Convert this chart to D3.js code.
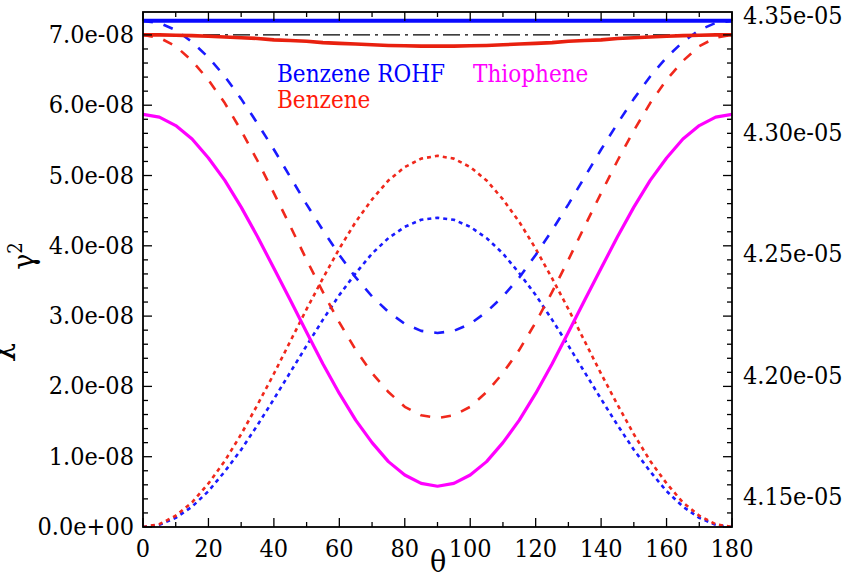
<!DOCTYPE html>
<html><head><meta charset="utf-8">
<script src="https://cdn.jsdelivr.net/npm/d3@7"></script>
<style>body{margin:0;background:#fff}svg{display:block}svg text{font-family:"DejaVu Serif Condensed","DejaVu Serif";font-stretch:condensed;}</style>
</head><body><svg id="c" width="850" height="580"></svg>
<script>
// theta in degrees, values in units of 1e-08
const theta = [0,5,10,15,20,25,30,35,40,45,50,55,60,65,70,75,80,85,90,95,100,105,110,115,120,125,130,135,140,145,150,155,160,165,170,175,180];
const benzeneRohfSolid = [7.20,7.20,7.20,7.20,7.20,7.20,7.20,7.20,7.20,7.20,7.20,7.20,7.20,7.20,7.20,7.20,7.20,7.20,7.20,7.20,7.20,7.20,7.20,7.20,7.20,7.20,7.20,7.20,7.20,7.20,7.20,7.20,7.20,7.20,7.20,7.20,7.20];
const refDashDot = [7.00,7.00,7.00,7.00,7.00,7.00,7.00,7.00,7.00,7.00,7.00,7.00,7.00,7.00,7.00,7.00,7.00,7.00,7.00,7.00,7.00,7.00,7.00,7.00,7.00,7.00,7.00,7.00,7.00,7.00,7.00,7.00,7.00,7.00,7.00,7.00,7.00];
const benzeneSolid = [7.00,7.00,6.995,6.99,6.98,6.97,6.96,6.95,6.93,6.92,6.91,6.89,6.88,6.87,6.86,6.85,6.845,6.84,6.84,6.84,6.845,6.85,6.86,6.87,6.88,6.89,6.91,6.92,6.93,6.95,6.96,6.97,6.98,6.99,6.995,7.00,7.00];
const benzeneRohfDashed = [7.20,7.17,7.07,6.90,6.68,6.41,6.09,5.74,5.37,4.98,4.59,4.22,3.87,3.55,3.28,3.06,2.89,2.79,2.76,2.79,2.89,3.06,3.28,3.55,3.87,4.22,4.59,4.98,5.37,5.74,6.09,6.41,6.68,6.90,7.07,7.17,7.20];
const benzeneDashed = [7.00,6.96,6.84,6.63,6.36,6.03,5.64,5.21,4.75,4.28,3.80,3.34,2.91,2.52,2.19,1.92,1.71,1.59,1.55,1.59,1.71,1.92,2.19,2.52,2.91,3.34,3.80,4.28,4.75,5.21,5.64,6.03,6.36,6.63,6.84,6.96,7.00];
const benzeneDotted = [0,0.04,0.16,0.35,0.62,0.94,1.32,1.74,2.18,2.64,3.10,3.54,3.96,4.34,4.66,4.93,5.12,5.24,5.28,5.24,5.12,4.93,4.66,4.34,3.96,3.54,3.10,2.64,2.18,1.74,1.32,0.94,0.62,0.35,0.16,0.04,0];
const benzeneRohfDotted = [0,0.03,0.13,0.29,0.51,0.79,1.10,1.45,1.82,2.20,2.58,2.95,3.30,3.61,3.89,4.11,4.27,4.37,4.40,4.37,4.27,4.11,3.89,3.61,3.30,2.95,2.58,2.20,1.82,1.45,1.10,0.79,0.51,0.29,0.13,0.03,0];
const thiophene = [5.87,5.83,5.71,5.52,5.25,4.93,4.55,4.13,3.68,3.23,2.77,2.32,1.90,1.52,1.20,0.93,0.74,0.62,0.58,0.62,0.74,0.93,1.20,1.52,1.90,2.32,2.77,3.23,3.68,4.13,4.55,4.93,5.25,5.52,5.71,5.83,5.87];

const xTicks = [0,20,40,60,80,100,120,140,160,180];
const yTicksLeft = [0,1,2,3,4,5,6,7];
const yTickLabelsLeft = ["0.0e+00","1.0e-08","2.0e-08","3.0e-08","4.0e-08","5.0e-08","6.0e-08","7.0e-08"];
const yTicksRight = [4.15e-05,4.20e-05,4.25e-05,4.30e-05,4.35e-05];
const yTickLabelsRight = ["4.15e-05","4.20e-05","4.25e-05","4.30e-05","4.35e-05"];
const legendLabels = ["Benzene ROHF","Benzene","Thiophene"];

const L=143, R=732, T=12, B=527;
const svg = d3.select("#c");
const x = d3.scaleLinear().domain([0,180]).range([L,R]);
const y = d3.scaleLinear().domain([0,7.326]).range([B,T]);
const y2 = d3.scaleLinear().domain([4.1375e-05,4.35e-05]).range([B,T]);

svg.append("defs").append("clipPath").attr("id","clip").append("rect")
  .attr("x",L).attr("y",T).attr("width",R-L).attr("height",B-T);

const series = [
  {v:benzeneRohfDotted, c:"#1a1aff", w:2.6, d:"4,4"},
  {v:benzeneDotted, c:"#f0281c", w:2.6, d:"4,4"},
  {v:benzeneRohfDashed, c:"#1a1aff", w:2.6, d:"10,11"},
  {v:benzeneDashed, c:"#f0281c", w:2.6, d:"10,11"},
  {v:thiophene, c:"#ff00ff", w:3.2, d:null},
  {v:refDashDot, c:"#000", w:1.4, d:"17,5,3,5"},
  {v:benzeneSolid, c:"#e8200f", w:3.6, d:null},
  {v:benzeneRohfSolid, c:"#0a0aff", w:4, d:null}
];
const line = d3.line().x((d,i)=>x(theta[i])).y(d=>y(d));
const g = svg.append("g").attr("clip-path","url(#clip)");
series.forEach(s=>{
  g.append("path").attr("d",line(s.v)).attr("fill","none").attr("stroke",s.c)
   .attr("stroke-width",s.w).attr("stroke-dasharray",s.d).attr("stroke-linejoin","round");
});

svg.append("rect").attr("x",L).attr("y",T).attr("width",R-L).attr("height",B-T)
  .attr("fill","none").attr("stroke","#000").attr("stroke-width",1.8);

const tk = svg.append("g").attr("stroke","#000").attr("stroke-width",1.3);
d3.range(0,181,10).forEach(t=>{
  const len = t%20===0 ? 9 : 5;
  tk.append("line").attr("x1",x(t)).attr("x2",x(t)).attr("y1",B).attr("y2",B-len);
  tk.append("line").attr("x1",x(t)).attr("x2",x(t)).attr("y1",T).attr("y2",T+len);
});
d3.range(0,36).map(i=>i*0.2).forEach(v=>{
  const major = Math.abs(v-Math.round(v))<1e-6;
  const len = major ? 9 : 5;
  tk.append("line").attr("x1",L).attr("x2",L+len).attr("y1",y(v)).attr("y2",y(v));
  tk.append("line").attr("x1",R).attr("x2",R-len).attr("y1",y(v)).attr("y2",y(v));
});

svg.append("g").selectAll("text").data(xTicks).join("text")
  .attr("x",d=>x(d)).attr("y",557).attr("text-anchor","middle")
  .attr("font-size",25).text(d=>d);
svg.append("g").selectAll("text").data(yTicksLeft).join("text")
  .attr("x",134).attr("y",d=>y(d)+8).attr("text-anchor","end")
  .attr("font-size",25).text((d,i)=>yTickLabelsLeft[i]);
svg.append("g").selectAll("text").data(yTicksRight).join("text")
  .attr("x",743).attr("y",d=>Math.max(y2(d)+8,24)).attr("text-anchor","start")
  .attr("font-size",25).text((d,i)=>yTickLabelsRight[i]);

svg.append("text").attr("x",438).attr("y",572).attr("text-anchor","middle")
  .attr("font-size",30).text("θ");
const yt = svg.append("text").attr("transform","translate(34,256) rotate(-90)")
  .attr("text-anchor","middle").attr("font-size",30);
yt.append("tspan").text("γ");
yt.append("tspan").attr("font-size",20).attr("dy",-12).text("2");
svg.append("text").attr("transform","translate(8,352) rotate(-90)")
  .attr("text-anchor","middle").attr("font-size",34).text("χ");

svg.append("text").attr("x",277).attr("y",82).attr("font-size",24).attr("fill","#0000ff").text(legendLabels[0]);
svg.append("text").attr("x",277).attr("y",108).attr("font-size",24).attr("fill","#ff1a0a").text(legendLabels[1]);
svg.append("text").attr("x",473).attr("y",82).attr("font-size",24).attr("fill","#ff00ff").text(legendLabels[2]);
</script></body></html>
